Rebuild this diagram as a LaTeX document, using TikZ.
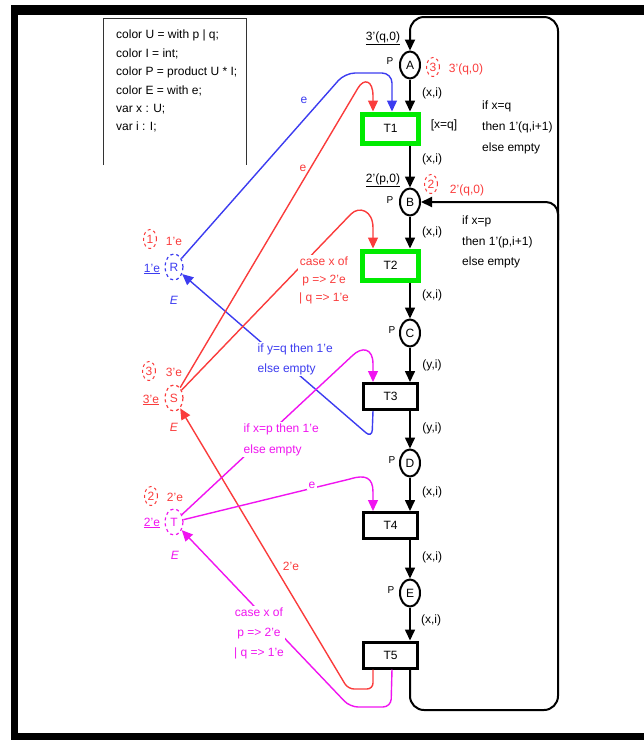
\documentclass[tikz,border=0pt]{standalone}
\usepackage{fontspec}
\setmainfont{Liberation Sans}
\usetikzlibrary{arrows.meta,shapes.geometric}
\definecolor{netblue}{RGB}{60,60,240}
\definecolor{netred}{RGB}{250,60,60}
\definecolor{netmag}{RGB}{240,20,240}
\definecolor{netgreen}{RGB}{0,235,0}
\begin{document}
\begin{tikzpicture}[x=1pt,y=-1pt,
  every node/.style={font=\fontsize{12}{14}\selectfont, inner sep=0pt},
  place/.style={ellipse, draw, line width=2pt, minimum width=20pt, minimum height=27pt},
  sideplace/.style={ellipse, draw, dashed, line width=1.2pt, minimum width=18pt, minimum height=26pt},
  trans/.style={rectangle, draw, line width=3pt, minimum width=54pt, minimum height=26pt},
  guardtrans/.style={rectangle, draw=netgreen, line width=5pt, minimum width=56pt, minimum height=29pt},
  tip/.style={-{Triangle[width=10pt,length=11pt]}},
  arc/.style={line width=1.6pt, tip},
  carc/.style={line width=1.4pt, tip},
  count/.style={ellipse, draw=netred, dashed, line width=1pt, minimum width=13pt, minimum height=19pt, text=netred},
  small/.style={font=\fontsize{10}{12}\selectfont},
  lab/.style={fill=white, inner sep=1.5pt},
]
\useasboundingbox (0,0) rectangle (644,740);

% outer frame
\fill (11,5) rectangle (644,15);
\fill (11,5) rectangle (18,740);
\fill (11,733) rectangle (644,740);

% declarations
\draw[line width=1pt, black!80] (103,165) -- (103,18) -- (246,18) -- (246,165);
\node[anchor=north west, align=left, font=\fontsize{12}{18.4}\selectfont] (decl) at (116,30)
  {color U = with p | q;\\ color I = int;\\ color P = product U * I;\\ color E = with e;\\ var x : U;\\ var i : I;};

% main chain of places and transitions
\node[place] (A) at (410,65) {A};
\node[guardtrans] (T1) at (390.5,128.5) {T1};
\node[place] (B) at (410,202) {B};
\node[guardtrans] (T2) at (390.5,265.5) {T2};
\node[place] (C) at (410,333) {C};
\node[trans] (T3) at (390.5,396.5) {T3};
\node[place] (D) at (410,463) {D};
\node[trans] (T4) at (390.5,525.5) {T4};
\node[place] (E) at (410,593) {E};
\node[trans] (T5) at (390.5,655) {T5};

% resource places
\node[sideplace, draw=netblue, text=netblue] (R) at (174,267) {R};
\node[sideplace, draw=netred, text=netred] (S) at (174,398) {S};
\node[sideplace, draw=netmag, text=netmag] (Tp) at (174,522) {T};

% place colour sets
\node[small] at (390,61) {P};
\node[small] at (390,200) {P};
\node[small] at (392,330) {P};
\node[small] at (392,460) {P};
\node[small] at (391,590) {P};
\node[text=netblue] at (174,300) {\itshape E};
\node[text=netred] at (174,427) {\itshape E};
\node[text=netmag] at (175,555) {\itshape E};

% initial and current markings
\node at (383,38) {\underline{3'(q,0)}};
\node[count] (cA) at (433,67) {3};
\node[text=netred] at (466,69) {3'(q,0)};
\node at (383,180) {\underline{2'(p,0)}};
\node[count] (cB) at (431,184) {2};
\node[text=netred] at (467,190) {2'(q,0)};
\node[text=netblue] at (152,269) {\underline{1'e}};
\node[count] (cR) at (150,239) {1};
\node[text=netred] at (174,241) {1'e};
\node[text=netred] at (151,400) {\underline{3'e}};
\node[count] (cS) at (149,371) {3};
\node[text=netred] at (174,372) {3'e};
\node[text=netmag] at (152,523) {\underline{2'e}};
\node[count] (cT) at (151,496) {2};
\node[text=netred] at (175,497) {2'e};

% main flow
\draw[arc] (A) -- (A |- T1.north);
\draw[arc] (T1.south -| B) -- (B);
\draw[arc] (B) -- (B |- T2.north);
\draw[arc] (T2.south -| C) -- (C);
\draw[arc] (C) -- (C |- T3.north);
\draw[arc] (T3.south -| D) -- (D);
\draw[arc] (D) -- (D |- T4.north);
\draw[arc] (T4.south -| E) -- (E);
\draw[arc] (E) -- (E |- T5.north);
\draw[arc, line width=2pt, rounded corners=14pt] (T5.south -| E) -- (410,710) -- (558,710) -- (558,17) -- (410,17) -- (A);
\draw[arc, line width=2pt, rounded corners=12pt] (558,240) |- (B);

% arc inscriptions on the main flow
\node at (432,93) {(x,i)};
\node at (444,125) {[x=q]};
\node at (432,159) {(x,i)};
\node at (432,232) {(x,i)};
\node at (432,295) {(x,i)};
\node at (432,365) {(y,i)};
\node at (432,428) {(y,i)};
\node at (432,492) {(x,i)};
\node at (432,557) {(x,i)};
\node at (431,620) {(x,i)};
\node[anchor=west, align=left, font=\fontsize{12}{21}\selectfont] at (482,127) {if x=q\\ then 1'(q,i+1)\\ else empty};
\node[anchor=west, align=left, font=\fontsize{12}{20.5}\selectfont] at (462,242) {if x=p\\ then 1'(p,i+1)\\ else empty};

% blue arcs (resource R)
\draw[carc, netblue, rounded corners=10pt] (R) -- (345,73) -- (392,73) -- ([xshift=1.5pt]T1.north);
\draw[carc, netblue, rounded corners=8pt] ([xshift=-17.5pt]T3.south) -- (372,438) -- (R);
\node[text=netblue] at (304,100) {e};
\node[lab, text=netblue, align=left, anchor=north west, font=\fontsize{12}{20}\selectfont] at (256,342) {if y=q then 1'e\\ else empty};

% red arcs (resource S)
\draw[carc, netred] (S) -- (358,88) .. controls (364,78) and (373,80) .. (373,96) -- ([xshift=-17.5pt]T1.north);
\draw[carc, netred] (S) -- (351,214) .. controls (359,206) and (373,210) .. (373,228) -- ([xshift=-17.5pt]T2.north);
\draw[carc, netred, rounded corners=6pt] ([xshift=-17.5pt]T5.south) -- (373,689) -- (348,689) -- (S);
\node[text=netred] at (303,168) {e};
\node[text=netred] at (291,566) {2'e};
\node[lab, text=netred, align=center, font=\fontsize{12}{18}\selectfont] at (324,280) {case x of\\ p => 2'e\\ | q => 1'e};

% magenta arcs (resource T)
\draw[carc, netmag] (Tp) -- (352,356) .. controls (362,346) and (373,348) .. (373,364) -- ([xshift=-17.5pt]T3.north);
\draw[carc, netmag] (Tp) -- (350,479) .. controls (366,474) and (373,478) .. (373,492) -- ([xshift=-17.5pt]T4.north);
\draw[carc, netmag, rounded corners=8pt] ([xshift=1.5pt]T5.south) -- (391,707) -- (350,707) -- (Tp);
\node[lab, text=netmag] at (312,485) {e};
\node[lab, text=netmag, align=left, anchor=north west, font=\fontsize{12}{21}\selectfont] at (242,422) {if x=p then 1'e\\ else empty};
\node[lab, text=netmag, align=center, font=\fontsize{12}{20}\selectfont] at (259,633) {case x of\\ p => 2'e\\ | q => 1'e};
\end{tikzpicture}
\end{document}
